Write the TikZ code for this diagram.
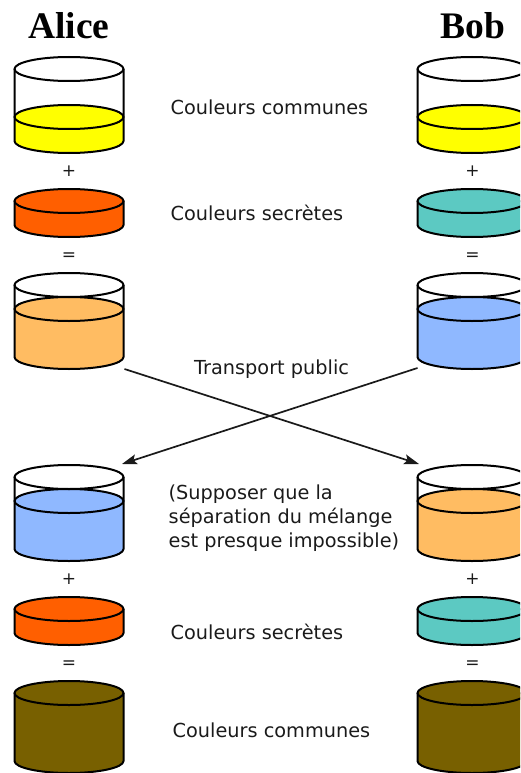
\documentclass[tikz,border=0pt]{standalone}
\usepackage{fontspec}
\setmainfont{DejaVu Sans}
\newfontfamily\headfont{Liberation Serif}
\usetikzlibrary{arrows.meta}
\definecolor{cYellow}{HTML}{FFFF00}
\definecolor{cRed}{HTML}{FF5F00}
\definecolor{cTeal}{HTML}{5CC9C2}
\definecolor{cPeach}{HTML}{FFBC62}
\definecolor{cBlue}{HTML}{8FB8FF}
\definecolor{cOlive}{HTML}{786000}
\definecolor{cInk}{HTML}{1A1A1A}
\tikzset{
  edge/.style={draw=black,line width=2pt,line join=round},
  label/.style={anchor=base west,font=\fontsize{19.3}{22}\selectfont,text=cInk,inner sep=0pt},
  op/.style={font=\fontsize{17}{20}\selectfont,text=cInk,inner sep=0pt},
  head/.style={font=\headfont\bfseries\fontsize{37.5}{40}\selectfont,text=black,inner sep=0pt,anchor=base},
  box/.style={inner sep=0pt,outer sep=0pt},
  flow/.style={draw=cInk,line width=1.7pt,-{Stealth[length=15pt,width=10pt,inset=3pt]}}
}
% name, cx, top-ellipse y, liquid-top y, bottom-ellipse y, colour
\newcommand{\beaker}[6]{%
  \node[box,minimum width=109pt,minimum height=#5-#3+24pt] (#1) at (#2,{(#3+#5)/2}) {};
  \fill[white] (#2,#3) ellipse [x radius=54.5pt,y radius=12pt];
  \path[fill=#6] (#2-54.5,#4) -- (#2-54.5,#5) arc[start angle=180,end angle=360,x radius=54.5pt,y radius=12pt] -- (#2+54.5,#4) -- cycle;
  \draw[edge,fill=#6] (#2,#4) ellipse [x radius=54.5pt,y radius=12pt];
  \draw[edge] (#2-54.5,#3) -- (#2-54.5,#5) arc[start angle=180,end angle=360,x radius=54.5pt,y radius=12pt] -- (#2+54.5,#3);
  \draw[edge] (#2,#3) ellipse [x radius=54.5pt,y radius=12pt];
}
% name, cx, top y, bottom y, colour
\newcommand{\puck}[5]{%
  \node[box,minimum width=109pt,minimum height=#4-#3+24pt] (#1) at (#2,{(#3+#4)/2}) {};
  \draw[edge,fill=#5] (#2-54.5,#3) -- (#2-54.5,#4) arc[start angle=180,end angle=360,x radius=54.5pt,y radius=12pt] -- (#2+54.5,#3) -- cycle;
  \draw[edge,fill=#5] (#2,#3) ellipse [x radius=54.5pt,y radius=12pt];
}
\begin{document}
\begin{tikzpicture}[x=1pt,y=-1pt]
\useasboundingbox (0,0) rectangle (520,773);
\clip (0,0) rectangle (520,773);
\node[head] (alice) at (69,39) {Alice};
\node[head] (bob) at (472.8,39) {Bob};

\beaker{a1}{69}{69}{117}{141}{cYellow}
\beaker{b1}{472}{69}{117}{141}{cYellow}
\node[op] (p1) at (69,171) {+};
\node[op] (p2) at (472.5,171) {+};
\puck{a2}{69}{201}{225}{cRed}
\puck{b2}{472}{201}{225}{cTeal}
\node[op] (e1) at (69,257) {=};
\node[op] (e2) at (472.5,257) {=};
\beaker{a3}{69}{285}{309}{357}{cPeach}
\beaker{b3}{472}{285}{309}{357}{cBlue}

\beaker{a4}{69}{477}{501}{549}{cBlue}
\beaker{b4}{472}{477}{501}{549}{cPeach}
\node[op] (p3) at (69,579) {+};
\node[op] (p4) at (472.5,579) {+};
\puck{a5}{69}{609}{633}{cRed}
\puck{b5}{472}{609}{633}{cTeal}
\node[op] (e3) at (69,665) {=};
\node[op] (e4) at (472.5,665) {=};
\puck{a6}{69}{693}{761}{cOlive}
\puck{b6}{472}{693}{761}{cOlive}

\draw[flow] ([xshift=1pt]a3.south east) -- ([xshift=1.5pt,yshift=1pt]b4.north west);
\draw[flow] ([yshift=1pt]b3.south west) -- ([xshift=-1.5pt,yshift=1pt]a4.north east);

\node[label] (t1) at (170.5,114.7) {Couleurs communes};
\node[label] (t2) at (170.5,220.7) {Couleurs secrètes};
\node[label] (t3) at (194,374.7) {Transport public};
\node[label] (t4) at (168.5,499.7) {(Supposer que la};
\node[label] (t5) at (168.5,523.7) {séparation du mélange};
\node[label] (t6) at (168.5,547.7) {est presque impossible)};
\node[label] (t7) at (170.5,639.7) {Couleurs secrètes};
\node[label] (t8) at (172.5,737.7) {Couleurs communes};
\end{tikzpicture}
\end{document}
